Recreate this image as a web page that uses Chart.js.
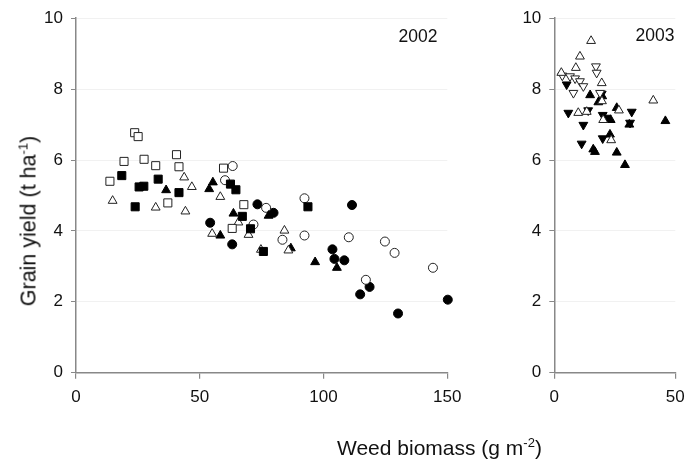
<!DOCTYPE html>
<html><head><meta charset="utf-8">
<script src="https://cdn.jsdelivr.net/npm/chart.js@4/dist/chart.umd.min.js"></script>
<style>
html,body{margin:0;padding:0;background:#fff;}
#wrap{position:relative;width:694px;height:464px;overflow:hidden;font-family:"Liberation Sans",Arial,sans-serif;color:#111;}
#c1{position:absolute;left:0;top:0;}
#c2{position:absolute;left:480px;top:0;}
#xlab{position:absolute;left:337px;top:437px;font-size:21px;line-height:21px;white-space:nowrap;}
#ylab{position:absolute;left:28.5px;top:221px;font-size:21.5px;line-height:21px;white-space:nowrap;transform:translate(-50%,-50%) rotate(-90deg);}
sup{font-size:13px;vertical-align:8px;line-height:0;}
</style></head>
<body><div id="wrap">
<canvas id="c1" width="470" height="464"></canvas>
<canvas id="c2" width="214" height="464"></canvas>
<div id="xlab">Weed biomass (g m<sup>-2</sup>)</div>
<div id="ylab">Grain yield (t ha<sup>-1</sup>)</div>
</div>
<script>
// ---- 2002 data (weed biomass g m-2, grain yield t ha-1) ----
const xOpenSquare02   = [13.7,19.4,23.7,25.1,27.5,32.2,37.1,40.6,41.6,59.6,63.1,67.8];
const yOpenSquare02   = [5.40,5.96,6.77,6.66,6.02,5.84,4.79,6.15,5.81,5.77,4.07,4.74];
const xFilledSquare02 = [18.5,23.9,25.5,27.4,33.2,41.6,62.4,64.6,67.2,70.5,75.7,93.7];
const yFilledSquare02 = [5.56,4.68,5.24,5.26,5.46,5.08,5.32,5.16,4.41,4.06,3.42,4.68];
const xOpenTri02      = [14.8,32.2,43.7,46.8,44.2,58.3,55.0,65.6,69.7,74.7,84.2,85.8];
const yOpenTri02      = [4.85,4.66,5.51,5.24,4.55,4.96,3.92,4.24,3.89,3.47,4.01,3.45];
const xFilledTri02    = [36.4,53.8,55.3,63.6,58.3,77.8,86.8,96.6,105.4];
const yFilledTri02    = [5.15,5.18,5.37,4.49,3.87,4.43,3.51,3.12,2.96];
const xOpenCircle02   = [63.3,60.2,71.7,76.8,83.4,92.3,92.3,110.2,124.8,128.7,117.1,144.2];
const yOpenCircle02   = [5.83,5.43,4.18,4.65,3.75,4.92,3.87,3.82,3.70,3.38,2.62,2.96];
const xFilledCircle02 = [54.2,63.1,73.3,79.8,111.5,103.6,104.4,108.4,118.6,114.8,130.1,150.2];
const yFilledCircle02 = [4.23,3.62,4.75,4.51,4.73,3.48,3.21,3.17,2.42,2.21,1.67,2.06];

// ---- 2003 data ----
const xOpenTri03      = [15.2,10.6,8.9,2.9,19.6,19.7,26.7,40.9,9.9,13.4,20.2,23.5];
const yOpenTri03      = [9.36,8.92,8.60,8.46,8.17,7.66,7.40,7.68,7.33,7.36,7.13,6.56];
const xOpenInvTri03   = [3.3,6.5,8.6,10.6,12.0,7.9,17.2,17.5,18.9];
const yOpenInvTri03   = [8.38,8.36,8.30,8.22,8.08,7.89,8.64,8.46,7.89];
const xFilledInvTri03 = [5.1,5.8,12.0,11.3,14.0,19.6,20.0,21.6,20.0,32.0,31.3];
const yFilledInvTri03 = [8.13,7.33,6.99,6.46,7.40,7.87,7.27,7.19,6.61,7.36,7.05];
const xFilledTri03    = [14.8,18.2,19.8,25.8,23.3,23.0,16.1,16.8,25.8,29.2,31.0,45.9];
const yFilledTri03    = [7.83,7.63,7.80,7.47,7.13,6.72,6.30,6.23,6.21,5.86,7.00,7.10];

// ---- axis ticks ----
const yTicks = [0,2,4,6,8,10];
const xTicks02 = [0,50,100,150];
const xTicks03 = [0,50];

const FONT = '"Liberation Sans", Arial, sans-serif';
const pts = (xs, ys) => xs.map((x, i) => ({x: x, y: ys[i]}));

function ds(label, xs, ys, style, filled, rot) {
  const r = style === 'circle' ? 4.5 : (style === 'rect' ? 5.7 : 5.1);
  return {
    label: label, data: pts(xs, ys), pointStyle: style, rotation: rot || 0,
    pointRadius: r, pointHoverRadius: r, pointBorderWidth: 1,
    pointBackgroundColor: filled ? '#000' : '#fff',
    pointBorderColor: filled ? '#000' : '#222',
    showLine: false, clip: false
  };
}

const yearLabel = {
  id: 'yearLabel',
  afterDraw(chart, args, opts) {
    const ctx = chart.ctx;
    ctx.save();
    ctx.font = opts.size + 'px ' + FONT;
    ctx.fillStyle = '#111';
    ctx.textAlign = 'center';
    ctx.textBaseline = 'middle';
    ctx.fillText(opts.text, opts.x, opts.y);
    ctx.restore();
  }
};

function makeOptions(xTicks, yWidth, padRight, year, yx, yy) {
  return {
    responsive: false, animation: false,
    layout: {padding: {top: 17, right: padRight, left: 0, bottom: 0}},
    plugins: {legend: {display: false}, tooltip: {enabled: false},
      yearLabel: {text: year, x: yx, y: yy, size: 17.5}},
    scales: {
      x: {
        type: 'linear', min: xTicks[0], max: xTicks[xTicks.length - 1],
        afterBuildTicks(s) { s.ticks = xTicks.map(v => ({value: v})); },
        ticks: {color: '#111', font: {family: FONT, size: 17}, padding: 8, maxRotation: 0},
        grid: {drawOnChartArea: false, tickColor: '#888', tickLength: 6, lineWidth: 1.2},
        border: {color: '#888', width: 1.5},
        afterFit(s) { s.height = 91.3; }
      },
      y: {
        type: 'linear', min: 0, max: 10,
        afterBuildTicks(s) { s.ticks = yTicks.map(v => ({value: v})); },
        ticks: {color: '#111', font: {family: FONT, size: 17}, padding: 8},
        grid: {color: '#f1f1f1', tickColor: '#888', tickLength: 5, lineWidth: 1},
        border: {color: '#888', width: 1.5},
        afterFit(s) { s.width = yWidth; }
      }
    }
  };
}

new Chart(document.getElementById('c1'), {
  type: 'scatter',
  data: {datasets: [
    ds('open square', xOpenSquare02, yOpenSquare02, 'rect', false),
    ds('filled square', xFilledSquare02, yFilledSquare02, 'rect', true),
    ds('open triangle', xOpenTri02, yOpenTri02, 'triangle', false),
    ds('filled triangle', xFilledTri02, yFilledTri02, 'triangle', true),
    ds('open circle', xOpenCircle02, yOpenCircle02, 'circle', false),
    ds('filled circle', xFilledCircle02, yFilledCircle02, 'circle', true)
  ]},
  options: makeOptions(xTicks02, 76, 22.7, '2002', 418, 37),
  plugins: [yearLabel]
});

new Chart(document.getElementById('c2'), {
  type: 'scatter',
  data: {datasets: [
    ds('open triangle', xOpenTri03, yOpenTri03, 'triangle', false),
    ds('open inverted triangle', xOpenInvTri03, yOpenInvTri03, 'triangle', false, 180),
    ds('filled inverted triangle', xFilledInvTri03, yFilledInvTri03, 'triangle', true, 180),
    ds('filled triangle', xFilledTri03, yFilledTri03, 'triangle', true)
  ]},
  options: makeOptions(xTicks03, 74.3, 18.7, '2003', 175, 36),
  plugins: [yearLabel]
});
</script>
</body></html>
